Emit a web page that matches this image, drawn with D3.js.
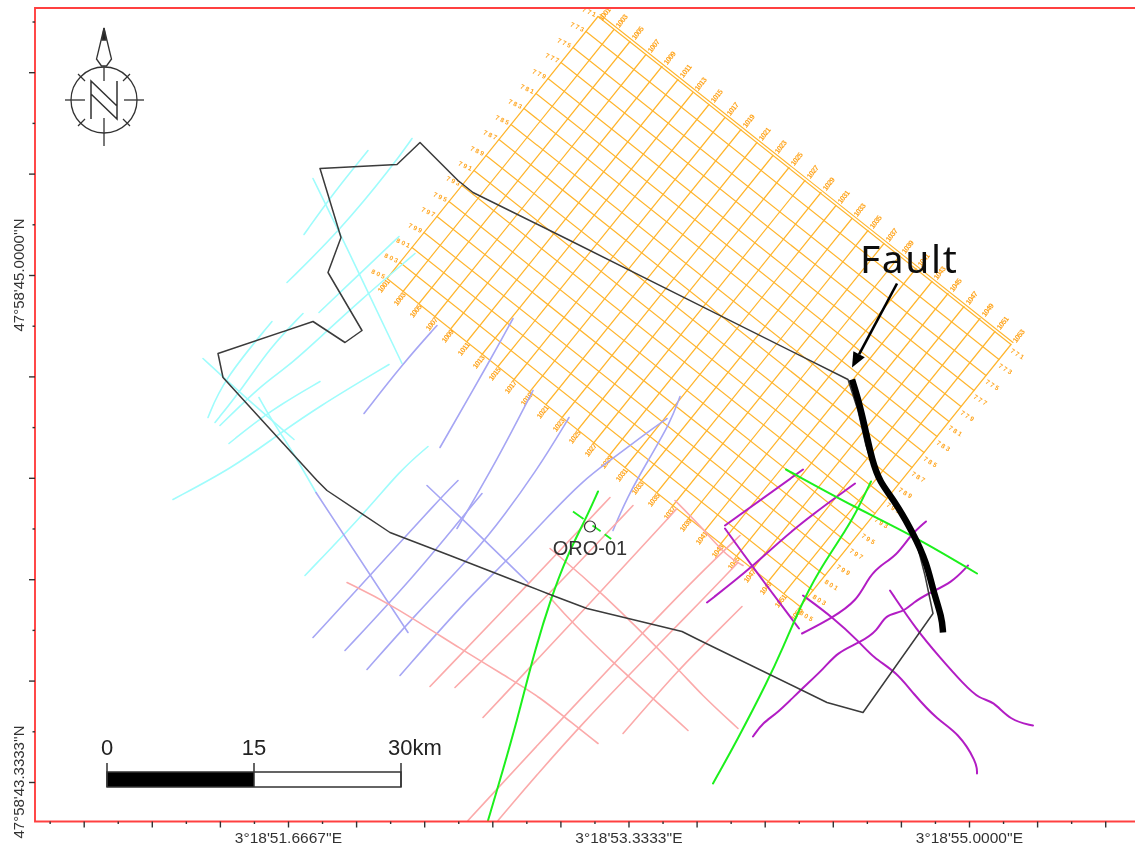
<!DOCTYPE html>
<html><head><meta charset="utf-8">
<script src="https://cdn.jsdelivr.net/npm/d3@7/dist/d3.min.js"></script>
<style>html,body{margin:0;padding:0;background:#fff;overflow:hidden}svg{display:block}</style>
</head><body><svg id="map" width="1135" height="848"></svg>
<script>
// All map features: local grid easting / northing (origin = lower-left map corner)
const outline=[[285,653],[362,657],[385,679],[423,641],[438,629],[533,582],[813,442],[823,411],[831,376],[842,343],[863,314],[881,281],[890,246],[898,208],[828,109],[792,119],[665,181],[647,190],[552,213],[515,227],[492,236],[415,266],[355,289],[292,331],[282,341],[188,444],[183,468],[278,500],[310,479],[327,491],[293,549],[306,584],[285,653]];
const fault=[[817,442],[823,423],[830,394],[837,361],[845,339],[858,323],[878,289],[892,258],[898,231],[907,204],[908,189]];
const faultArrow=[[862,538],[817,454]];
const cyanLines=[
 [[333,671],[298,628],[269,587]],
 [[377,683],[358,656],[305,591],[252,539]],
 [[278,643],[307,584],[367,458]],
 [[364,585],[325,548],[284,509]],
 [[380,568],[325,521],[285,484],[252,454],[228,438],[185,396]],
 [[268,508],[235,474],[208,434],[180,399]],
 [[237,500],[188,441],[173,404]],
 [[168,463],[208,426],[259,382]],
 [[285,440],[235,411],[194,378]],
 [[354,457],[282,414],[238,383],[198,354],[138,322]],
 [[224,424],[235,404],[257,371],[281,329]],
 [[393,375],[365,351],[332,311],[270,246]]];
const blueLines=[
 [[402,496],[368,458],[329,408]],
 [[478,503],[455,461],[405,374]],
 [[498,431],[462,361],[422,293]],
 [[423,341],[405,323],[335,246],[278,184]],
 [[447,328],[427,304],[378,244],[310,171]],
 [[534,404],[502,351],[458,291],[432,261],[378,204],[332,152]],
 [[632,403],[608,386],[575,361],[548,341],[512,304],[472,261],[428,218],[365,146]],
 [[645,425],[635,398],[613,361],[592,324],[578,291]],
 [[392,336],[452,279],[493,239]],
 [[281,329],[373,189]]];
const pinkLines=[
 [[312,239],[355,218],[428,171],[478,141],[505,124],[530,104],[563,78]],
 [[575,324],[492,236],[395,135]],
 [[598,316],[515,228],[420,134]],
 [[642,313],[567,231],[448,104]],
 [[705,286],[665,248],[607,188],[528,104],[433,1]],
 [[703,259],[665,219],[542,94],[463,1]],
 [[707,215],[665,173],[643,151],[588,88]],
 [[515,273],[565,231],[645,151],[665,128],[703,93]],
 [[515,224],[537,199],[578,159],[618,123],[653,91]],
 [[640,321],[665,296],[693,264],[708,256]]];
const purpleLines=[
 [[768,352],[690,296]],
 [[820,338],[758,293],[717,254],[672,219]],
 [[690,293],[718,254],[764,193]],
 [[891,300],[875,286],[862,266],[842,254],[832,241],[822,221],[798,204],[767,188]],
 [[933,256],[917,239],[895,229],[878,219],[868,209],[850,207],[843,191],[825,179],[802,169],[790,154],[765,131],[742,108],[728,99],[718,85]],
 [[768,226],[798,204],[825,179],[838,164],[862,149],[878,128],[903,101],[923,89],[942,59],[942,48]],
 [[855,231],[882,191],[905,164],[928,138],[945,122],[958,121],[975,101],[998,96]]];
const greenLines=[
 [[563,330],[550,301],[533,268],[515,221],[497,161],[483,104],[462,31],[453,1]],
 [[836,340],[822,311],[812,293],[782,248],[765,214],[748,174],[733,141],[702,81],[678,38]],
 [[751,352],[822,313],[878,286],[942,248]]];
const wellTrace=[[538,310],[577,282]];
const wellPoint=[555,295];
const wellName="ORO-01";
// Survey grid: inline lines (NW-SE) and crosslines (NE-SW), start and end
const gridInlines=[[[563,805],[976,477]],[[551,790],[964,462]],[[538,774],[951,446]],[[526,759],[939,431]],[[513,743],[926,415]],[[501,728],[914,400]],[[489,713],[902,385]],[[476,697],[889,369]],[[464,682],[877,354]],[[451,666],[864,338]],[[439,651],[852,323]],[[427,636],[840,308]],[[414,620],[827,292]],[[402,605],[815,277]],[[389,589],[802,261]],[[377,574],[790,246]],[[365,559],[778,231]],[[352,543],[765,215]]];
const gridEdge=[[565,807],[978,479]];
const gridCrosslines=[[[563,805],[352,543]],[[579,792],[368,530]],[[595,780],[384,518]],[[611,767],[400,505]],[[627,755],[416,493]],[[643,742],[432,480]],[[658,729],[447,467]],[[674,717],[463,455]],[[690,704],[479,442]],[[706,692],[495,430]],[[722,679],[511,417]],[[738,666],[527,404]],[[754,654],[543,392]],[[770,641],[559,379]],[[786,629],[575,367]],[[801,616],[590,354]],[[817,603],[606,341]],[[833,591],[622,329]],[[849,578],[638,316]],[[865,566],[654,304]],[[881,553],[670,291]],[[897,540],[686,278]],[[913,528],[702,266]],[[929,515],[718,253]],[[945,503],[734,241]],[[960,490],[749,228]],[[976,477],[765,215]]];
const inlineNames=["7 7 1","7 7 3","7 7 5","7 7 7","7 7 9","7 8 1","7 8 3","7 8 5","7 8 7","7 8 9","7 9 1","7 9 3","7 9 5","7 9 7","7 9 9","8 0 1","8 0 3","8 0 5"];
const crosslineNames=["1001","1003","1005","1007","1009","1011","1013","1015","1017","1019","1021","1023","1025","1027","1029","1031","1033","1035","1037","1039","1041","1043","1045","1047","1049","1051","1053"];
// Axes
const lonMajor=[50.6667,51,51.3333,51.6667,52,52.3333,52.6667,53,53.3333,53.6667,54,54.3333,54.6667,55,55.3333,55.6667];
const lonMinor=[50.5,50.8333,51.1667,51.5,51.8333,52.1667,52.5,52.8333,53.1667,53.5,53.8333,54.1667,54.5,54.8333,55.1667,55.5];
const lonLabels={51.6667:"3°18'51.6667''E",53.3333:"3°18'53.3333''E",55:"3°18'55.0000''E"};
const latMajor=[43.3333,43.6667,44,44.3333,44.6667,45,45.3333,45.6667,46];
const latMinor=[43.5,43.8333,44.1667,44.5,44.8333,45.1667,45.5,45.8333,46.1667];
const latLabels={43.3333:"47°58'43.3333''N",45:"47°58'45.0000''N"};
const scaleKm=[0,15,30];
const scaleLabels=["0","15","30km"];
const annotation="Fault";

const svg=d3.select("#map");
const frame={l:35,r:1135,t:8,b:821.5};
const x=d3.scaleLinear().domain([0,1100]).range([35,1135]);
const y=d3.scaleLinear().domain([0,813.5]).range([821.5,8]);
const lon=d3.scaleLinear().domain([51.6667,55]).range([288,969]);
const lat=d3.scaleLinear().domain([43.3333,45]).range([782,275]);
const line=d3.line().x(d=>x(d[0])).y(d=>y(d[1]));
const smooth=d3.line().x(d=>x(d[0])).y(d=>y(d[1])).curve(d3.curveBasis);
const defs=svg.append("defs");
defs.append("filter").attr("id","soft").attr("x","-2%").attr("y","-2%").attr("width","104%").attr("height","104%")
  .append("feGaussianBlur").attr("stdDeviation",0.5);
defs.append("clipPath").attr("id","plot").append("rect")
  .attr("x",frame.l).attr("y",frame.t).attr("width",frame.r-frame.l).attr("height",frame.b-frame.t);
const root=svg.append("g").attr("filter","url(#soft)");
const map=root.append("g").attr("clip-path","url(#plot)");

function draw(data,gen,color,w,cls){
  map.append("g").attr("class",cls).selectAll("path").data(data).join("path")
    .attr("d",gen).attr("fill","none").attr("stroke",color).attr("stroke-width",w)
    .attr("stroke-linejoin","round").attr("stroke-linecap","round");
}
// grid
draw(gridInlines,line,"#ffb52e",1.2,"inlines");
draw([gridEdge],line,"#ffb52e",1.1,"edge");
draw(gridCrosslines,line,"#ffb52e",1.2,"crosslines");
const gl=map.append("g").attr("class","gridlabels").attr("fill","#ffa51f").attr("font-family","Liberation Sans").attr("font-weight","bold").attr("text-anchor","middle").attr("dominant-baseline","middle");
function labels(names,lines,end,off,rot,spacing,size){
  gl.append("g").attr("font-size",size).selectAll("text").data(names).join("text")
    .attr("transform",(d,i)=>{const o=off(i);return `translate(${x(lines[i][end][0])+o[0]},${y(lines[i][end][1])+o[1]}) rotate(${rot})`;})
    .attr("letter-spacing",spacing).text(d=>d);
}
labels(inlineNames,gridInlines,0,()=>[-9,-4],25,0,6.5);
labels(inlineNames,gridInlines,1,()=>[6,10],32,0,6.5);
labels(crosslineNames,gridCrosslines,0,i=>i==0?[7,-2]:[8,-8],-52,-0.6,7.5);
labels(crosslineNames,gridCrosslines,1,()=>[-3,8],-52,-0.6,7.5);

draw(cyanLines,smooth,"#9ffcfc",1.6,"cyan");
draw(blueLines,smooth,"#a6a6f4",1.6,"blue");
draw(pinkLines,smooth,"#fbaaaa",1.6,"pink");
draw(purpleLines,smooth,"#b21fc4",2,"purple");
draw(greenLines,smooth,"#1cf01c",2,"green");
map.append("path").datum(wellTrace).attr("d",line).attr("fill","none").attr("stroke","#1cf01c").attr("stroke-width",1.8).attr("stroke-dasharray","13 11 10 5 8 3");
draw([outline],line,"#3a3a3a",1.5,"outline");
map.append("path").datum(fault).attr("d",smooth).attr("fill","none").attr("stroke","#000").attr("stroke-width",6.5).attr("stroke-linejoin","round");

// arrow
const [a0,a1]=faultArrow.map(p=>[x(p[0]),y(p[1])]);
const ang=Math.atan2(a1[1]-a0[1],a1[0]-a0[0]);
const hl=15,hw=6.5;
const bx=a1[0]-hl*Math.cos(ang),by=a1[1]-hl*Math.sin(ang);
root.append("line").attr("x1",a0[0]).attr("y1",a0[1]).attr("x2",bx).attr("y2",by).attr("stroke","#000").attr("stroke-width",2.6);
root.append("path").attr("fill","#000").attr("d",d3.line()([a1,[bx-hw*Math.sin(ang),by+hw*Math.cos(ang)],[bx+hw*Math.sin(ang),by-hw*Math.cos(ang)]])+"Z");

// well
root.append("circle").attr("cx",x(wellPoint[0])).attr("cy",y(wellPoint[1])).attr("r",5.5).attr("fill","none").attr("stroke","#333").attr("stroke-width",1.2);
root.append("text").attr("x",x(wellPoint[0])).attr("y",555).attr("text-anchor","middle").attr("font-family","Liberation Sans").attr("font-size",20).attr("fill","#333").text(wellName);

// frame
root.append("path").attr("d",`M${frame.r},${frame.t}H${frame.l}V${frame.b}H${frame.r}`).attr("fill","none").attr("stroke","#ff4040").attr("stroke-width",1.9);

// axes
const tickStyle=(g,labelMap,size)=>{g.select(".domain").remove();g.selectAll("line").attr("stroke","#333").attr("stroke-width",1.4);
  g.selectAll("text").attr("font-family","Liberation Sans").attr("font-size",size).attr("fill","#333");};
const xAxisG=root.append("g").attr("transform",`translate(0,${frame.b})`);
xAxisG.append("g").call(d3.axisBottom(lon).tickValues(lonMajor.filter(v=>lon(v)>40&&lon(v)<1130)).tickSize(6).tickSizeOuter(0).tickPadding(4).tickFormat(d=>lonLabels[d]||"")).call(tickStyle,lonLabels,15.5);
xAxisG.append("g").call(d3.axisBottom(lon).tickValues(lonMinor.filter(v=>lon(v)>40&&lon(v)<1130)).tickSize(2.5).tickSizeOuter(0).tickFormat("")).call(tickStyle,{},10);
const yAxisG=root.append("g").attr("transform",`translate(${frame.l},0)`);
yAxisG.append("g").call(d3.axisLeft(lat).tickValues(latMajor.filter(v=>lat(v)>12&&lat(v)<815)).tickSize(6).tickSizeOuter(0).tickFormat("")).call(tickStyle,{},10);
yAxisG.append("g").call(d3.axisLeft(lat).tickValues(latMinor.filter(v=>lat(v)>12&&lat(v)<815)).tickSize(2.5).tickSizeOuter(0).tickFormat("")).call(tickStyle,{},10);
Object.entries(latLabels).forEach(([k,t])=>{
  root.append("text").attr("transform",`translate(24,${lat(+k)}) rotate(-90)`).attr("text-anchor","middle")
   .attr("font-family","Liberation Sans").attr("font-size",15).attr("fill","#333").text(t);
});

// fault label
root.append("text").attr("x",860).attr("y",273).attr("font-family","Noto Sans").attr("font-size",39).attr("letter-spacing",1.6).attr("fill","#111").text(annotation);

// scale bar
const km=d3.scaleLinear().domain([0,30]).range([107,401]);
const sb=root.append("g");
sb.append("rect").attr("x",km(0)).attr("y",772).attr("width",km(15)-km(0)).attr("height",15).attr("fill","#000");
sb.append("rect").attr("x",km(0)).attr("y",772).attr("width",km(30)-km(0)).attr("height",15).attr("fill","none").attr("stroke","#333").attr("stroke-width",1.5);
sb.selectAll("line").data(scaleKm).join("line").attr("x1",d=>km(d)).attr("x2",d=>km(d)).attr("y1",763).attr("y2",787).attr("stroke","#333").attr("stroke-width",1.5);
sb.selectAll("text").data(scaleKm).join("text").attr("x",(d,i)=>km(d)+(i==2?14:0)).attr("y",755).attr("text-anchor","middle")
  .attr("font-family","Liberation Sans").attr("font-size",22).attr("fill","#222").text((d,i)=>scaleLabels[i]);

// north arrow
const na=root.append("g").attr("fill","none").attr("stroke","#333").attr("stroke-width",1.3);
const cx=104,cy=100,R=33;
na.append("circle").attr("cx",cx).attr("cy",cy).attr("r",R);
[[-39,0,-19,0],[20,0,40,0],[0,-33,0,-19],[0,18,0,46],[-26,-26,-19,-19],[19,-19,26,-26],[-26,26,-19,19],[19,19,26,26]].forEach(s=>{
 na.append("line").attr("x1",cx+s[0]).attr("y1",cy+s[1]).attr("x2",cx+s[2]).attr("y2",cy+s[3]);});
na.append("path").attr("d",`M${cx},${cy-72}L${cx+6},${cy-47}L${cx+7.5},${cy-41}L${cx+2.5},${cy-34}H${cx-2.5}L${cx-7.5},${cy-41}L${cx-6},${cy-47}Z`);
na.append("path").attr("d",`M${cx},${cy-72}L${cx+2},${cy-60}H${cx-2}Z`).attr("fill","#222");
na.append("path").attr("stroke-width",1.5).attr("d",`M${cx-13},${cy+19}V${cy-19}L${cx+13},${cy+6}M${cx-13},${cy-6}L${cx+13},${cy+19}V${cy-19}`);
</script></body></html>
